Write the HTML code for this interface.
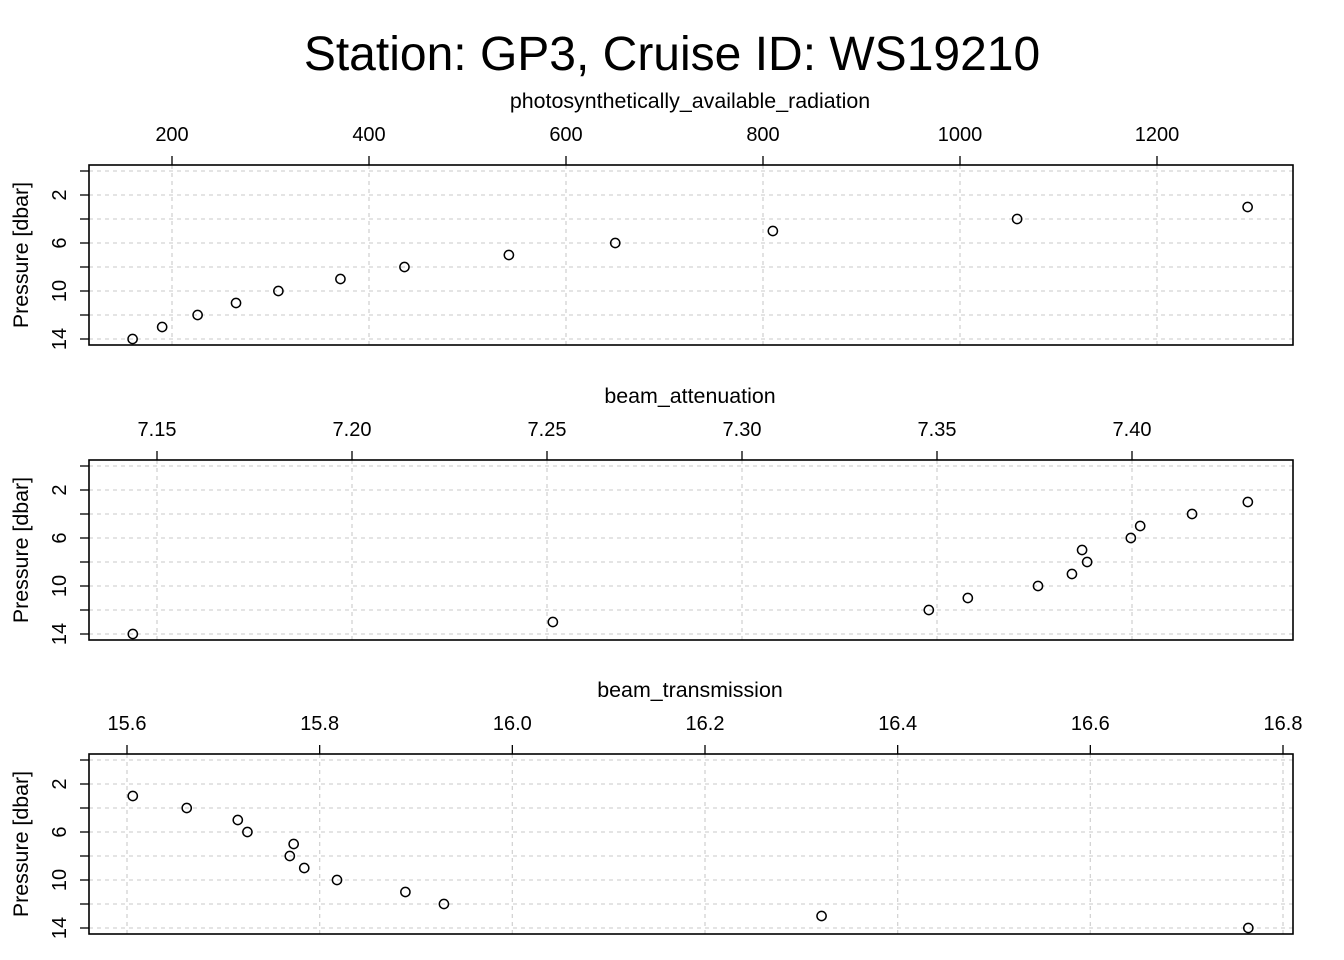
<!DOCTYPE html>
<html><head><meta charset="utf-8"><style>
html,body{margin:0;padding:0;background:#fff;}
svg{display:block;font-family:"Liberation Sans",Arial,sans-serif;}
</style></head><body>
<svg id="chart" width="1344" height="960" viewBox="0 0 1344 960">
<text x="672" y="70" text-anchor="middle" font-size="48">Station: GP3, Cruise ID: WS19210</text>
</svg>
<script>
const pressures = [3,4,5,6,7,8,9,10,11,12,13,14];
const parValues = [1292,1058,810,650,542,436,371,308,265,226,190,160];
const parTicks = [200,400,600,800,1000,1200];
const beamAttPressures = [3,4,5,6,7,8,9,10,11,12,13,14];
const beamAttValues = [7.4297,7.4154,7.4021,7.3997,7.3872,7.3885,7.3846,7.3759,7.3579,7.3479,7.2515,7.1438];
const beamAttTicks = ["7.15","7.20","7.25","7.30","7.35","7.40"];
const beamTransPressures = [3,4,5,6,7,8,9,10,11,12,13,14];
const beamTransValues = [15.606,15.662,15.715,15.725,15.773,15.769,15.784,15.818,15.889,15.929,16.321,16.764];
const beamTransTicks = ["15.6","15.8","16.0","16.2","16.4","16.6","16.8"];
const pressureTicks = [0,2,4,6,8,10,12,14];

const svg = document.getElementById('chart');
const NS = 'http://www.w3.org/2000/svg';
function mk(tag, attrs, parent){
  const e = document.createElementNS(NS, tag);
  for (const k in attrs) e.setAttribute(k, attrs[k]);
  (parent||svg).appendChild(e);
  return e;
}
const L = 89, R = 1293;
function panel(top, name, label, ticks, xs, ps, x0v, x1v, x0p, x1p){
  const g = mk('g', {});
  
  
  const xScale = v => x0p + (v - x0v) * (x1p - x0p) / (x1v - x0v);
  const yScale = p => top + 30 + (p - 2) * 12;
  const bottom = top + 180;
  ticks.forEach(t => {
    const x = xScale(parseFloat(t));
    const l = mk('line', {x1:x, x2:x, y1:top, y2:bottom, stroke:'#d3d3d3', 'stroke-dasharray':'4,4', 'stroke-width':1.3}, g);
    
    
  });
  pressureTicks.forEach(p => {
    const y = yScale(p);
    const l = mk('line', {x1:L, x2:R, y1:y, y2:y, stroke:'#d3d3d3', 'stroke-dasharray':'4,4', 'stroke-width':1.3}, g);
    
    
    const tk = mk('line', {x1:L-9, x2:L, y1:y, y2:y, stroke:'#000', 'stroke-width':1.3}, g);
    
    
    if (p % 4 === 2) {
      const t = mk('text', {x:0, y:0, transform:`translate(66,${y}) rotate(-90)`, 'text-anchor':'middle', 'font-size':20}, g);
      t.textContent = p;
      
      
    }
  });
  ticks.forEach(t => {
    const x = xScale(parseFloat(t));
    const tk = mk('line', {x1:x, x2:x, y1:top-9, y2:top, stroke:'#000', 'stroke-width':1.3}, g);
    
    
    const tx = mk('text', {x:x, y:top-24, 'text-anchor':'middle', 'font-size':20}, g);
    tx.textContent = t;
    
    
  });
  const box = mk('rect', {x:L, y:top, width:R-L, height:180, fill:'none', stroke:'#000', 'stroke-width':1.6}, g);
  
  
  const xt = mk('text', {x:690, y:top-57, 'text-anchor':'middle', 'font-size':21.4}, g);
  xt.textContent = label;
  
  
  const yt = mk('text', {x:0, y:0, transform:`translate(28,${top+90}) rotate(-90)`, 'text-anchor':'middle', 'font-size':21.4}, g);
  yt.textContent = 'Pressure [dbar]';
  
  
  xs.forEach((v, i) => {
    const c = mk('circle', {cx:xScale(v), cy:yScale(ps[i]), r:4.6, fill:'none', stroke:'#000', 'stroke-width':1.5}, g);
    
    
  });
}
panel(165, 'par', 'photosynthetically_available_radiation', parTicks.map(String), parValues, pressures, 200, 400, 172, 369);
panel(460, 'beam-attenuation', 'beam_attenuation', beamAttTicks, beamAttValues, beamAttPressures, 7.15, 7.40, 157, 1132);
panel(754, 'beam-transmission', 'beam_transmission', beamTransTicks, beamTransValues, beamTransPressures, 15.6, 16.8, 127, 1283);
</script>
</body></html>
